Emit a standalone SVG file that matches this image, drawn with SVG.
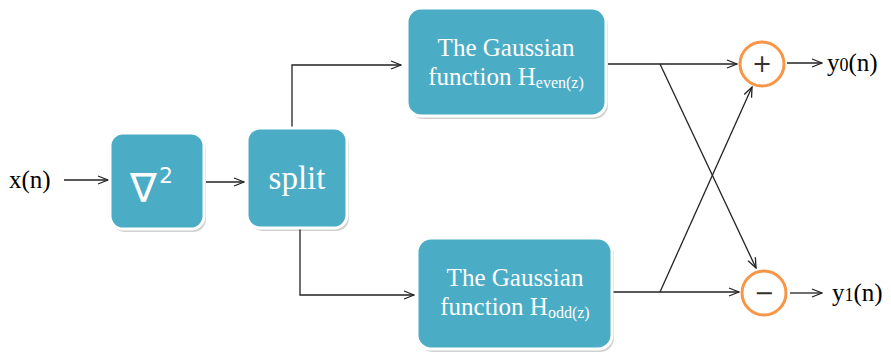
<svg xmlns="http://www.w3.org/2000/svg" width="891" height="353" viewBox="0 0 891 353">
<defs>
<marker id="ah" markerWidth="12" markerHeight="10" refX="11" refY="5" orient="auto" markerUnits="userSpaceOnUse">
<path d="M1,1 L11,5 L1,9" fill="none" stroke="#222" stroke-width="1.3"/>
</marker>
</defs>
<rect width="891" height="353" fill="#fff"/>
<g id="connectors" fill="none" stroke="#222" stroke-width="1.3" marker-end="url(#ah)">
<line x1="64" y1="180" x2="108" y2="180"/>
<line x1="206" y1="182" x2="244" y2="182"/>
<polyline points="292,128 292,65 401,65"/>
<polyline points="300,228 300,295 414,295"/>
<line x1="608" y1="64" x2="737" y2="64"/>
<line x1="613" y1="292" x2="739" y2="292"/>
<line x1="660" y1="64" x2="756" y2="268"/>
<line x1="660" y1="292" x2="752" y2="87"/>
<line x1="787" y1="63" x2="822" y2="63"/>
<line x1="790" y1="293" x2="822" y2="293"/>
</g>
<g id="x_in"><text x="9" y="188" font-family="Times New Roman" font-size="25" fill="#000">x(n)</text></g>
<g id="nabla">
<rect x="112" y="136" width="94" height="96" rx="13" fill="#000" fill-opacity="0.18"/>
<rect x="110" y="133" width="94" height="96" rx="13" fill="#4BACC6" stroke="#fff" stroke-width="3"/>
<text x="130" y="202" fill="#fff" font-family="DejaVu Sans" font-size="40">&#8711;</text>
<text x="159" y="183" fill="#fff" font-family="DejaVu Sans" font-size="22">2</text>
</g>
<g id="split">
<rect x="249" y="131" width="100" height="100" rx="13" fill="#000" fill-opacity="0.18"/>
<rect x="247" y="128" width="100" height="100" rx="13" fill="#4BACC6" stroke="#fff" stroke-width="3"/>
<text x="297" y="189" font-size="33" font-family="Times New Roman" fill="#fff" text-anchor="middle">split</text>
</g>
<g id="heven">
<rect x="409" y="11" width="199" height="108" rx="14" fill="#000" fill-opacity="0.18"/>
<rect x="407" y="8" width="199" height="108" rx="14" fill="#4BACC6" stroke="#fff" stroke-width="3"/>
<text x="506" y="56" font-family="Times New Roman" fill="#fff" text-anchor="middle" font-size="25">The Gaussian</text>
<text x="506" y="85" font-family="Times New Roman" fill="#fff" text-anchor="middle" font-size="25">function H<tspan font-size="16" dy="3">even(z)</tspan></text>
</g>
<g id="hodd">
<rect x="419" y="241" width="195" height="111" rx="14" fill="#000" fill-opacity="0.18"/>
<rect x="417" y="238" width="195" height="111" rx="14" fill="#4BACC6" stroke="#fff" stroke-width="3"/>
<text x="515" y="286" font-family="Times New Roman" fill="#fff" text-anchor="middle" font-size="25">The Gaussian</text>
<text x="515" y="315" font-family="Times New Roman" fill="#fff" text-anchor="middle" font-size="25">function H<tspan font-size="16" dy="3">odd(z)</tspan></text>
</g>
<g id="plus">
<circle cx="762" cy="64" r="22" fill="#fff" stroke="#F79646" stroke-width="3"/>
<text x="762" y="72" text-anchor="middle" font-family="DejaVu Sans" font-size="24" fill="#333">+</text>
</g>
<g id="minus">
<circle cx="764" cy="293" r="22" fill="#fff" stroke="#F79646" stroke-width="3"/>
<text x="764" y="301" text-anchor="middle" font-family="DejaVu Sans" font-size="24" fill="#333">&#8722;</text>
</g>
<g id="y0"><text x="827" y="71" font-family="Times New Roman" font-size="25" fill="#000">y<tspan font-size="18">0</tspan>(n)</text></g>
<g id="y1"><text x="832" y="301" font-family="Times New Roman" font-size="25" fill="#000">y<tspan font-size="18">1</tspan>(n)</text></g>
</svg>
